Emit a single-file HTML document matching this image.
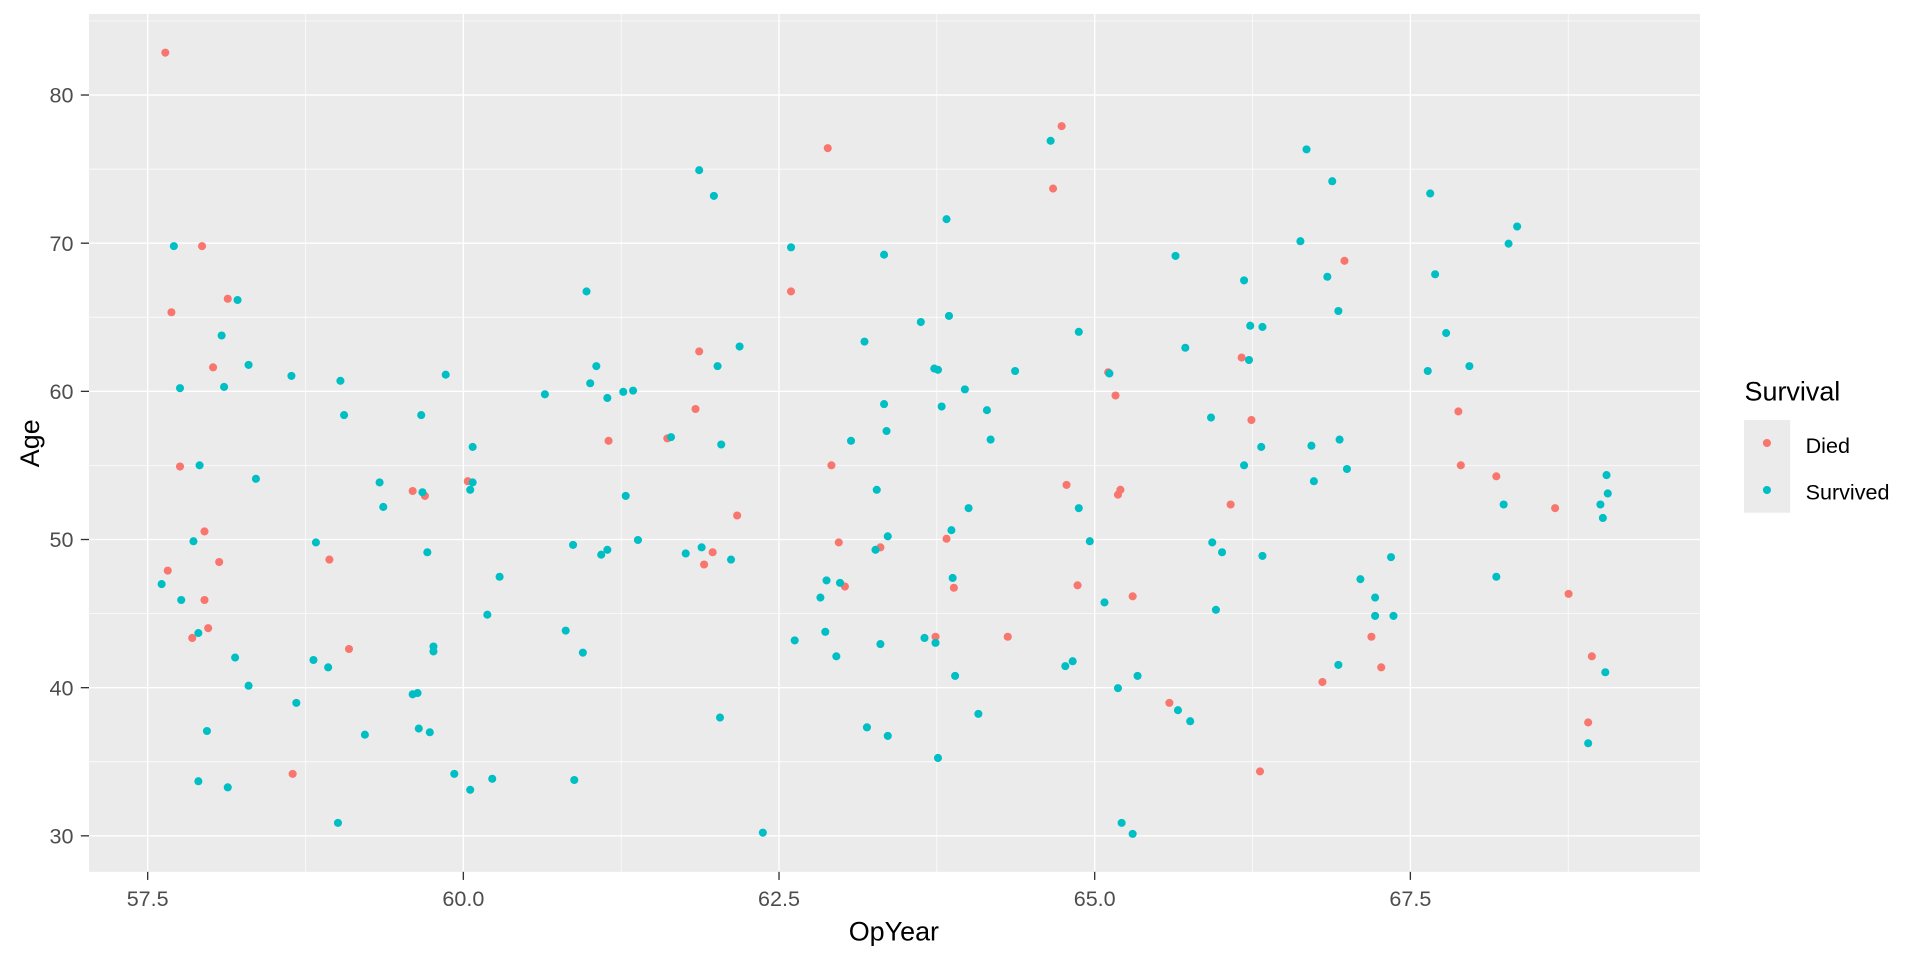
<!DOCTYPE html>
<html><head><meta charset="utf-8"><style>
html,body{margin:0;padding:0;background:#fff;}
svg{display:block;}
text{font-family:"Liberation Sans",Arial,sans-serif;}
</style></head><body>
<svg width="1920" height="960" viewBox="0 0 1568 784" xmlns="http://www.w3.org/2000/svg">
<rect x="0" y="0" width="1568" height="784" fill="#fff"/>
<rect x="72.7" y="11.4" width="1315.6" height="700.6" fill="#EBEBEB"/>
<g stroke="#fff" stroke-width="0.55">
<line x1="72.7" x2="1388.3" y1="622.1" y2="622.1"/><line x1="72.7" x2="1388.3" y1="501.1" y2="501.1"/>
<line x1="72.7" x2="1388.3" y1="380.1" y2="380.1"/><line x1="72.7" x2="1388.3" y1="259.1" y2="259.1"/>
<line x1="72.7" x2="1388.3" y1="138.1" y2="138.1"/><line x1="72.7" x2="1388.3" y1="17.1" y2="17.1"/>
<line y1="11.4" y2="712" x1="249.5" x2="249.5"/><line y1="11.4" y2="712" x1="507.3" x2="507.3"/>
<line y1="11.4" y2="712" x1="765.1" x2="765.1"/><line y1="11.4" y2="712" x1="1022.9" x2="1022.9"/>
<line y1="11.4" y2="712" x1="1280.7" x2="1280.7"/>
</g>
<g stroke="#fff" stroke-width="1.1">
<line x1="72.7" x2="1388.3" y1="682.6" y2="682.6"/><line x1="72.7" x2="1388.3" y1="561.6" y2="561.6"/>
<line x1="72.7" x2="1388.3" y1="440.6" y2="440.6"/><line x1="72.7" x2="1388.3" y1="319.6" y2="319.6"/>
<line x1="72.7" x2="1388.3" y1="198.6" y2="198.6"/><line x1="72.7" x2="1388.3" y1="77.6" y2="77.6"/>
<line y1="11.4" y2="712" x1="120.6" x2="120.6"/><line y1="11.4" y2="712" x1="378.4" x2="378.4"/>
<line y1="11.4" y2="712" x1="636.2" x2="636.2"/><line y1="11.4" y2="712" x1="894" x2="894"/>
<line y1="11.4" y2="712" x1="1151.8" x2="1151.8"/>
</g>
<g stroke="#333" stroke-width="1.1">
<line x1="66" x2="72.7" y1="682.6" y2="682.6"/><line x1="66" x2="72.7" y1="561.6" y2="561.6"/>
<line x1="66" x2="72.7" y1="440.6" y2="440.6"/><line x1="66" x2="72.7" y1="319.6" y2="319.6"/>
<line x1="66" x2="72.7" y1="198.6" y2="198.6"/><line x1="66" x2="72.7" y1="77.6" y2="77.6"/>
<line y1="712" y2="718.6" x1="120.6" x2="120.6"/><line y1="712" y2="718.6" x1="378.4" x2="378.4"/>
<line y1="712" y2="718.6" x1="636.2" x2="636.2"/><line y1="712" y2="718.6" x1="894" x2="894"/>
<line y1="712" y2="718.6" x1="1151.8" x2="1151.8"/>
</g>
<g fill="#4D4D4D" font-size="17.6" text-anchor="end">
<text x="60" y="688.8">30</text><text x="60" y="567.8">40</text><text x="60" y="446.8">50</text>
<text x="60" y="325.8">60</text><text x="60" y="204.8">70</text><text x="60" y="83.8">80</text>
</g>
<g fill="#4D4D4D" font-size="17.6" text-anchor="middle">
<text x="120.6" y="740">57.5</text><text x="378.4" y="740">60.0</text><text x="636.2" y="740">62.5</text>
<text x="894" y="740">65.0</text><text x="1151.8" y="740">67.5</text>
</g>
<text x="730" y="768" font-size="22" text-anchor="middle" fill="#000">OpYear</text>
<text x="0" y="0" font-size="22" text-anchor="middle" fill="#000" transform="translate(32,362) rotate(-90)">Age</text>
<g fill="#F8766D">
<circle cx="135" cy="43" r="3.3"/><circle cx="165" cy="201" r="3.3"/><circle cx="140" cy="255" r="3.3"/><circle cx="186" cy="244" r="3.3"/><circle cx="174" cy="300" r="3.3"/><circle cx="147" cy="381" r="3.3"/><circle cx="137" cy="466" r="3.3"/><circle cx="167" cy="434" r="3.3"/><circle cx="179" cy="459" r="3.3"/><circle cx="157" cy="521" r="3.3"/><circle cx="167" cy="490" r="3.3"/><circle cx="170" cy="513" r="3.3"/><circle cx="239" cy="632" r="3.3"/><circle cx="269" cy="457" r="3.3"/><circle cx="285" cy="530" r="3.3"/><circle cx="337" cy="401" r="3.3"/><circle cx="347" cy="405" r="3.3"/><circle cx="382" cy="393" r="3.3"/><circle cx="497" cy="360" r="3.3"/><circle cx="568" cy="334" r="3.3"/><circle cx="571" cy="287" r="3.3"/><circle cx="575" cy="461" r="3.3"/><circle cx="582" cy="451" r="3.3"/><circle cx="602" cy="421" r="3.3"/><circle cx="545" cy="358" r="3.3"/><circle cx="646" cy="238" r="3.3"/><circle cx="676" cy="121" r="3.3"/><circle cx="685" cy="443" r="3.3"/><circle cx="679" cy="380" r="3.3"/><circle cx="690" cy="479" r="3.3"/><circle cx="719" cy="447" r="3.3"/><circle cx="764" cy="520" r="3.3"/><circle cx="773" cy="440" r="3.3"/><circle cx="779" cy="480" r="3.3"/><circle cx="823" cy="520" r="3.3"/><circle cx="860" cy="154" r="3.3"/><circle cx="867" cy="103" r="3.3"/><circle cx="871" cy="396" r="3.3"/><circle cx="880" cy="478" r="3.3"/><circle cx="915" cy="400" r="3.3"/><circle cx="905" cy="304" r="3.3"/><circle cx="911" cy="323" r="3.3"/><circle cx="913" cy="404" r="3.3"/><circle cx="925" cy="487" r="3.3"/><circle cx="955" cy="574" r="3.3"/><circle cx="1005" cy="412" r="3.3"/><circle cx="1014" cy="292" r="3.3"/><circle cx="1022" cy="343" r="3.3"/><circle cx="1029" cy="630" r="3.3"/><circle cx="1080" cy="557" r="3.3"/><circle cx="1098" cy="213" r="3.3"/><circle cx="1120" cy="520" r="3.3"/><circle cx="1128" cy="545" r="3.3"/><circle cx="1191" cy="336" r="3.3"/><circle cx="1193" cy="380" r="3.3"/><circle cx="1222" cy="389" r="3.3"/><circle cx="1270" cy="415" r="3.3"/><circle cx="1281" cy="485" r="3.3"/><circle cx="1297" cy="590" r="3.3"/><circle cx="1300" cy="536" r="3.3"/>
</g>
<g fill="#00BFC4">
<circle cx="132" cy="477" r="3.3"/><circle cx="142" cy="201" r="3.3"/><circle cx="147" cy="317" r="3.3"/><circle cx="148" cy="490" r="3.3"/><circle cx="158" cy="442" r="3.3"/><circle cx="163" cy="380" r="3.3"/><circle cx="162" cy="517" r="3.3"/><circle cx="162" cy="638" r="3.3"/><circle cx="169" cy="597" r="3.3"/><circle cx="181" cy="274" r="3.3"/><circle cx="183" cy="316" r="3.3"/><circle cx="186" cy="643" r="3.3"/><circle cx="192" cy="537" r="3.3"/><circle cx="194" cy="245" r="3.3"/><circle cx="203" cy="298" r="3.3"/><circle cx="209" cy="391" r="3.3"/><circle cx="203" cy="560" r="3.3"/><circle cx="238" cy="307" r="3.3"/><circle cx="242" cy="574" r="3.3"/><circle cx="256" cy="539" r="3.3"/><circle cx="258" cy="443" r="3.3"/><circle cx="268" cy="545" r="3.3"/><circle cx="278" cy="311" r="3.3"/><circle cx="281" cy="339" r="3.3"/><circle cx="276" cy="672" r="3.3"/><circle cx="310" cy="394" r="3.3"/><circle cx="313" cy="414" r="3.3"/><circle cx="298" cy="600" r="3.3"/><circle cx="337" cy="567" r="3.3"/><circle cx="341" cy="566" r="3.3"/><circle cx="342" cy="595" r="3.3"/><circle cx="344" cy="339" r="3.3"/><circle cx="345" cy="402" r="3.3"/><circle cx="349" cy="451" r="3.3"/><circle cx="351" cy="598" r="3.3"/><circle cx="354" cy="528" r="3.3"/><circle cx="354" cy="532" r="3.3"/><circle cx="364" cy="306" r="3.3"/><circle cx="371" cy="632" r="3.3"/><circle cx="384" cy="400" r="3.3"/><circle cx="386" cy="365" r="3.3"/><circle cx="386" cy="394" r="3.3"/><circle cx="384" cy="645" r="3.3"/><circle cx="398" cy="502" r="3.3"/><circle cx="402" cy="636" r="3.3"/><circle cx="408" cy="471" r="3.3"/><circle cx="445" cy="322" r="3.3"/><circle cx="462" cy="515" r="3.3"/><circle cx="468" cy="445" r="3.3"/><circle cx="469" cy="637" r="3.3"/><circle cx="476" cy="533" r="3.3"/><circle cx="479" cy="238" r="3.3"/><circle cx="482" cy="313" r="3.3"/><circle cx="487" cy="299" r="3.3"/><circle cx="491" cy="453" r="3.3"/><circle cx="496" cy="325" r="3.3"/><circle cx="496" cy="449" r="3.3"/><circle cx="509" cy="320" r="3.3"/><circle cx="511" cy="405" r="3.3"/><circle cx="517" cy="319" r="3.3"/><circle cx="521" cy="441" r="3.3"/><circle cx="548" cy="357" r="3.3"/><circle cx="560" cy="452" r="3.3"/><circle cx="571" cy="139" r="3.3"/><circle cx="573" cy="447" r="3.3"/><circle cx="583" cy="160" r="3.3"/><circle cx="586" cy="299" r="3.3"/><circle cx="588" cy="586" r="3.3"/><circle cx="589" cy="363" r="3.3"/><circle cx="597" cy="457" r="3.3"/><circle cx="604" cy="283" r="3.3"/><circle cx="623" cy="680" r="3.3"/><circle cx="646" cy="202" r="3.3"/><circle cx="649" cy="523" r="3.3"/><circle cx="670" cy="488" r="3.3"/><circle cx="675" cy="474" r="3.3"/><circle cx="674" cy="516" r="3.3"/><circle cx="683" cy="536" r="3.3"/><circle cx="686" cy="476" r="3.3"/><circle cx="695" cy="360" r="3.3"/><circle cx="706" cy="279" r="3.3"/><circle cx="708" cy="594" r="3.3"/><circle cx="715" cy="449" r="3.3"/><circle cx="716" cy="400" r="3.3"/><circle cx="719" cy="526" r="3.3"/><circle cx="722" cy="208" r="3.3"/><circle cx="722" cy="330" r="3.3"/><circle cx="724" cy="352" r="3.3"/><circle cx="725" cy="438" r="3.3"/><circle cx="725" cy="601" r="3.3"/><circle cx="752" cy="263" r="3.3"/><circle cx="755" cy="521" r="3.3"/><circle cx="763" cy="301" r="3.3"/><circle cx="764" cy="525" r="3.3"/><circle cx="766" cy="619" r="3.3"/><circle cx="766" cy="302" r="3.3"/><circle cx="769" cy="332" r="3.3"/><circle cx="773" cy="179" r="3.3"/><circle cx="775" cy="258" r="3.3"/><circle cx="777" cy="433" r="3.3"/><circle cx="778" cy="472" r="3.3"/><circle cx="780" cy="552" r="3.3"/><circle cx="788" cy="318" r="3.3"/><circle cx="791" cy="415" r="3.3"/><circle cx="799" cy="583" r="3.3"/><circle cx="806" cy="335" r="3.3"/><circle cx="809" cy="359" r="3.3"/><circle cx="829" cy="303" r="3.3"/><circle cx="858" cy="115" r="3.3"/><circle cx="870" cy="544" r="3.3"/><circle cx="876" cy="540" r="3.3"/><circle cx="881" cy="415" r="3.3"/><circle cx="881" cy="271" r="3.3"/><circle cx="890" cy="442" r="3.3"/><circle cx="902" cy="492" r="3.3"/><circle cx="906" cy="305" r="3.3"/><circle cx="913" cy="562" r="3.3"/><circle cx="916" cy="672" r="3.3"/><circle cx="925" cy="681" r="3.3"/><circle cx="929" cy="552" r="3.3"/><circle cx="960" cy="209" r="3.3"/><circle cx="962" cy="580" r="3.3"/><circle cx="968" cy="284" r="3.3"/><circle cx="972" cy="589" r="3.3"/><circle cx="989" cy="341" r="3.3"/><circle cx="990" cy="443" r="3.3"/><circle cx="993" cy="498" r="3.3"/><circle cx="998" cy="451" r="3.3"/><circle cx="1016" cy="229" r="3.3"/><circle cx="1016" cy="380" r="3.3"/><circle cx="1020" cy="294" r="3.3"/><circle cx="1021" cy="266" r="3.3"/><circle cx="1030" cy="365" r="3.3"/><circle cx="1031" cy="267" r="3.3"/><circle cx="1031" cy="454" r="3.3"/><circle cx="1062" cy="197" r="3.3"/><circle cx="1067" cy="122" r="3.3"/><circle cx="1071" cy="364" r="3.3"/><circle cx="1073" cy="393" r="3.3"/><circle cx="1084" cy="226" r="3.3"/><circle cx="1088" cy="148" r="3.3"/><circle cx="1093" cy="254" r="3.3"/><circle cx="1094" cy="359" r="3.3"/><circle cx="1093" cy="543" r="3.3"/><circle cx="1100" cy="383" r="3.3"/><circle cx="1111" cy="473" r="3.3"/><circle cx="1123" cy="488" r="3.3"/><circle cx="1123" cy="503" r="3.3"/><circle cx="1136" cy="455" r="3.3"/><circle cx="1138" cy="503" r="3.3"/><circle cx="1168" cy="158" r="3.3"/><circle cx="1166" cy="303" r="3.3"/><circle cx="1172" cy="224" r="3.3"/><circle cx="1181" cy="272" r="3.3"/><circle cx="1200" cy="299" r="3.3"/><circle cx="1222" cy="471" r="3.3"/><circle cx="1228" cy="412" r="3.3"/><circle cx="1232" cy="199" r="3.3"/><circle cx="1239" cy="185" r="3.3"/><circle cx="1297" cy="607" r="3.3"/><circle cx="1307" cy="412" r="3.3"/><circle cx="1309" cy="423" r="3.3"/><circle cx="1311" cy="549" r="3.3"/><circle cx="1312" cy="388" r="3.3"/><circle cx="1313" cy="403" r="3.3"/>
</g>
<text x="1424.7" y="327" font-size="22" fill="#000">Survival</text>
<rect x="1424.3" y="343" width="37.7" height="75.7" fill="#EBEBEB"/>
<circle cx="1443" cy="361.8" r="3.3" fill="#F8766D"/>
<circle cx="1443" cy="400.2" r="3.3" fill="#00BFC4"/>
<text x="1474.6" y="370" font-size="17.6" fill="#000">Died</text>
<text x="1474.6" y="408" font-size="17.6" fill="#000">Survived</text>
</svg>
</body></html>
